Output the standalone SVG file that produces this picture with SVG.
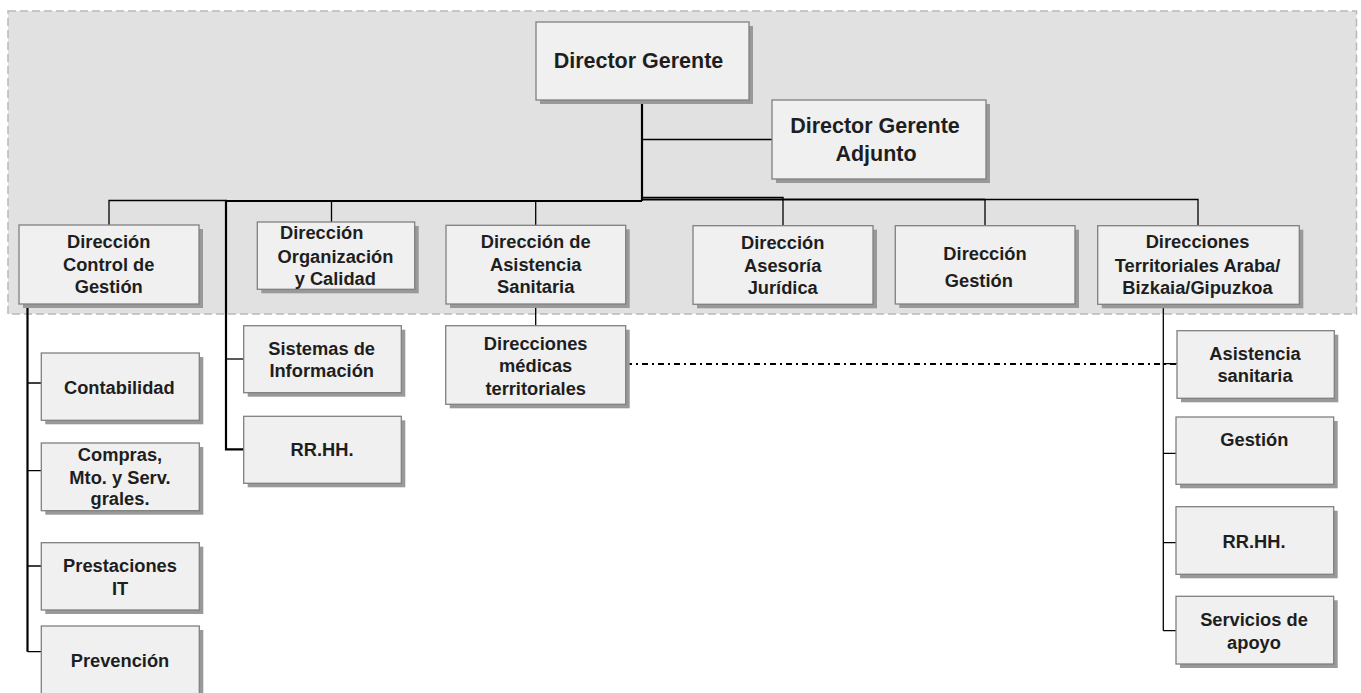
<svg xmlns="http://www.w3.org/2000/svg" width="1361" height="693" viewBox="0 0 1361 693">
<defs>
<style>
.bg{fill:#e0e1e0;stroke:#b9b9b9;stroke-width:1.5;stroke-dasharray:8,4}
.sh{fill:#999999}
.bx{fill:#f0f0f0;stroke:#808080;stroke-width:1.3}
text{font-family:"Liberation Sans",Arial,sans-serif;font-weight:bold;font-size:18.3px;fill:#1e1e1e;text-anchor:middle}
.big{font-size:21.5px}
.ln{fill:none;stroke:#000;stroke-width:1.3}
.tk{fill:none;stroke:#000;stroke-width:2.2}
.dd{fill:none;stroke:#000;stroke-width:2;stroke-dasharray:6,4,2,4}
</style>
</defs>
<rect width="1361" height="693" fill="#ffffff"/>
<rect class="bg" x="8" y="11" width="1348.5" height="303"/>
<g id="connectors">
<path class="tk" d="M642,100 V201"/>
<path class="ln" d="M642,139.5 H772"/>
<path class="ln" d="M109,225 V200.5 H227"/>
<path class="tk" d="M226,201 H642"/>
<path class="tk" d="M642,199.5 H985"/>
<path class="ln" d="M642,197.5 H783 V225.5"/>
<path class="ln" d="M985,200 V225.5"/>
<path class="ln" d="M985,199.5 H1198 V225.5"/>
<path class="ln" d="M331.5,200.5 V222"/>
<path class="ln" d="M535.7,200.5 V225.5"/>
<path class="tk" d="M226,201 V449.3 H244"/>
<path class="ln" d="M226,359 H244"/>
<path class="tk" d="M27.5,304 V651.7"/>
<path class="ln" d="M27.5,383 H41.3 M27.5,470.7 H41.3 M27.5,566 H41.3 M27.5,651.7 H41.3"/>
<path class="ln" d="M535.7,304 V325.7"/>
<path class="dd" d="M626,364 H1177"/>
<path class="ln" d="M1163.3,304.3 V630.7"/>
<path class="ln" d="M1163.3,363.7 H1177 M1163.3,453.3 H1176 M1163.3,542.7 H1176 M1163.3,630.7 H1176"/>
</g>
<g id="n-director-gerente">
<rect class="sh" x="540" y="26" width="213" height="78"/>
<rect class="bx" x="536" y="22" width="213" height="78"/>
<text class="big" x="638.5" y="68.3">Director Gerente</text>
</g>
<g id="n-director-gerente-adjunto">
<rect class="sh" x="776" y="104" width="214" height="79"/>
<rect class="bx" x="772" y="100" width="214" height="79"/>
<text class="big" x="875" y="133.3">Director Gerente</text>
<text class="big" x="876" y="161">Adjunto</text>
</g>
<g id="n-control-gestion">
<rect class="sh" x="23" y="229" width="180" height="79"/>
<rect class="bx" x="19" y="225" width="180" height="79"/>
<text x="108.7" y="248.3">Dirección</text>
<text x="108.7" y="271">Control de</text>
<text x="108.7" y="293.3">Gestión</text>
</g>
<g id="n-organizacion">
<rect class="sh" x="261.3" y="226" width="157.4" height="67.3"/>
<rect class="bx" x="257.3" y="222" width="157.4" height="67.3"/>
<text x="321.7" y="239.3">Dirección</text>
<text x="335.5" y="263.3">Organización</text>
<text x="335.3" y="285">y Calidad</text>
</g>
<g id="n-asistencia-sanitaria">
<rect class="sh" x="450" y="229.3" width="179.7" height="78.7"/>
<rect class="bx" x="446" y="225.3" width="179.7" height="78.7"/>
<text x="535.7" y="248.3">Dirección de</text>
<text x="535.7" y="270.7">Asistencia</text>
<text x="535.7" y="293.3">Sanitaria</text>
</g>
<g id="n-asesoria">
<rect class="sh" x="697" y="229.7" width="180" height="78.6"/>
<rect class="bx" x="693" y="225.7" width="180" height="78.6"/>
<text x="782.7" y="249.3">Dirección</text>
<text x="782.7" y="271.7">Asesoría</text>
<text x="782.7" y="294.3">Jurídica</text>
</g>
<g id="n-gestion">
<rect class="sh" x="899.3" y="229.7" width="179.7" height="78.3"/>
<rect class="bx" x="895.3" y="225.7" width="179.7" height="78.3"/>
<text x="985" y="260">Dirección</text>
<text x="978.8" y="287.3">Gestión</text>
</g>
<g id="n-territoriales">
<rect class="sh" x="1101.7" y="229.7" width="201.6" height="78.6"/>
<rect class="bx" x="1097.7" y="225.7" width="201.6" height="78.6"/>
<text x="1197.5" y="248.3">Direcciones</text>
<text x="1197.5" y="271.7">Territoriales Araba/</text>
<text x="1197.5" y="294.3">Bizkaia/Gipuzkoa</text>
</g>
<g id="n-sistemas">
<rect class="sh" x="247.7" y="329.7" width="157.6" height="67"/>
<rect class="bx" x="243.7" y="325.7" width="157.6" height="67"/>
<text x="321.7" y="355">Sistemas de</text>
<text x="321.7" y="376.7">Información</text>
</g>
<g id="n-rrhh-1">
<rect class="sh" x="247.7" y="420.3" width="157.6" height="67"/>
<rect class="bx" x="243.7" y="416.3" width="157.6" height="67"/>
<text x="322" y="456">RR.HH.</text>
</g>
<g id="n-contabilidad">
<rect class="sh" x="45.3" y="357" width="158" height="67.3"/>
<rect class="bx" x="41.3" y="353" width="158" height="67.3"/>
<text x="119.3" y="394">Contabilidad</text>
</g>
<g id="n-compras">
<rect class="sh" x="45.3" y="447" width="158" height="67.7"/>
<rect class="bx" x="41.3" y="443" width="158" height="67.7"/>
<text x="120" y="460.7">Compras,</text>
<text x="120" y="484">Mto. y Serv.</text>
<text x="120" y="505">grales.</text>
</g>
<g id="n-prestaciones">
<rect class="sh" x="45.3" y="546.7" width="158" height="67.3"/>
<rect class="bx" x="41.3" y="542.7" width="158" height="67.3"/>
<text x="120" y="571.7">Prestaciones</text>
<text x="120" y="595">IT</text>
</g>
<g id="n-prevencion">
<rect class="sh" x="45.3" y="630" width="158" height="80"/>
<rect class="bx" x="41.3" y="626" width="158" height="80"/>
<text x="120" y="667.3">Prevención</text>
</g>
<g id="n-medicas">
<rect class="sh" x="449.7" y="329.7" width="180" height="78.6"/>
<rect class="bx" x="445.7" y="325.7" width="180" height="78.6"/>
<text x="535.7" y="350">Direcciones</text>
<text x="535.7" y="371.7">médicas</text>
<text x="535.7" y="395">territoriales</text>
</g>
<g id="n-asistencia">
<rect class="sh" x="1181" y="334.7" width="157.3" height="67.6"/>
<rect class="bx" x="1177" y="330.7" width="157.3" height="67.6"/>
<text x="1255" y="360">Asistencia</text>
<text x="1255" y="381.7">sanitaria</text>
</g>
<g id="n-gestion-t">
<rect class="sh" x="1180" y="421" width="157.7" height="67.3"/>
<rect class="bx" x="1176" y="417" width="157.7" height="67.3"/>
<text x="1254.3" y="446">Gestión</text>
</g>
<g id="n-rrhh-2">
<rect class="sh" x="1180" y="510.7" width="157.7" height="67.6"/>
<rect class="bx" x="1176" y="506.7" width="157.7" height="67.6"/>
<text x="1254" y="547.7">RR.HH.</text>
</g>
<g id="n-servicios">
<rect class="sh" x="1180" y="600.3" width="157.7" height="67.7"/>
<rect class="bx" x="1176" y="596.3" width="157.7" height="67.7"/>
<text x="1254" y="626">Servicios de</text>
<text x="1254" y="649.3">apoyo</text>
</g>
</svg>
